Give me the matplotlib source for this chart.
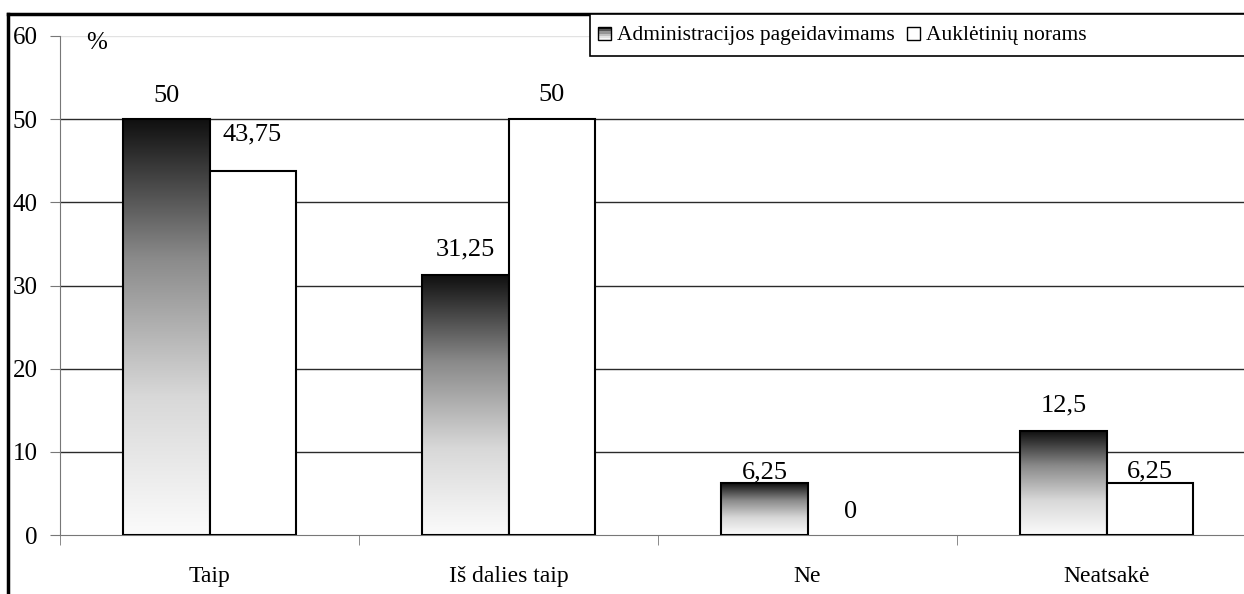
import numpy as np
import matplotlib.pyplot as plt
from matplotlib.patches import Rectangle
from matplotlib.colors import LinearSegmentedColormap
from matplotlib.legend_handler import HandlerBase

plt.rcParams['font.family'] = ['Liberation Serif', 'DejaVu Serif']

# data
categories = ['Taip', 'Iš dalies taip', 'Ne', 'Neatsakė']
admin = [50, 31.25, 6.25, 12.5]
aukl = [43.75, 50, 0, 6.25]
series_names = ['Administracijos pageidavimams', 'Auklėtinių norams']
yticks = [0, 10, 20, 30, 40, 50, 60]

# label nudges in points (layout only)
admin_off = [12, 14, 3, 14]
aukl_off = [22, 13, 12, 4]

W, H = 1244, 594
fig = plt.figure(figsize=(W / 100, H / 100), dpi=100)
ax = fig.add_axes([60 / W, (H - 535) / H, 1196 / W, 499 / H])

grad = LinearSegmentedColormap.from_list('g', ['#fbfbfb', '#d8d8d8', '#8a8a8a', '#101010'])
bw = 0.288
x = np.arange(len(categories))


def fmt(v):
    return ('%g' % v).replace('.', ',')


for i in range(len(categories)):
    x0 = x[i] - bw
    v = admin[i]
    if v > 0:
        img = np.linspace(0, 1, 256).reshape(-1, 1)
        ax.imshow(img, cmap=grad, aspect='auto', origin='lower',
                  extent=[x0, x0 + bw, 0, v], zorder=3, interpolation='bicubic')
        ax.add_patch(Rectangle((x0, 0), bw, v, facecolor='none',
                               edgecolor='black', lw=1.5, zorder=4))
    w = aukl[i]
    if w > 0:
        ax.add_patch(Rectangle((x[i], 0), bw, w, facecolor='white',
                               edgecolor='black', lw=1.5, zorder=4))
    ax.annotate(fmt(v), (x0 + bw / 2, v), xytext=(0, admin_off[i]),
                textcoords='offset points', ha='center', va='baseline',
                fontsize=19, zorder=5)
    ax.annotate(fmt(w), (x[i] + bw / 2, w), xytext=(0, aukl_off[i]),
                textcoords='offset points', ha='center', va='baseline',
                fontsize=19, zorder=5)

ax.set_xlim(-0.5, 3.5)
ax.set_ylim(0, 60)
ax.set_yticks(yticks)
ax.set_yticklabels([str(t) for t in yticks], fontsize=18)
for t in yticks[1:-1]:
    ax.axhline(t, color='#2a2a2a', lw=1, zorder=1)
ax.axhline(60, color='#e2e2e2', lw=1, zorder=1)

ax.set_xticks(x)
ax.set_xticklabels(categories, fontsize=17)
ax.set_xticks(np.arange(-0.5, 4.0, 1), minor=True)
ax.tick_params(axis='x', which='major', length=0, pad=22)
ax.tick_params(axis='x', which='minor', length=7, direction='out', color='#777')
ax.tick_params(axis='y', length=7, direction='out', color='#777', pad=9)
for s in ['top', 'right']:
    ax.spines[s].set_visible(False)
ax.spines['left'].set_color('#777')
ax.spines['bottom'].set_color('#777')
ax.patch.set_alpha(0)

ax.text(0.022, 0.985, '%', transform=ax.transAxes, fontsize=18,
        ha='left', va='center')

# outer frame
fig.add_artist(plt.Line2D([8 / W, 8 / W], [0, 1 - 14 / H], color='black',
                          lw=2.5, transform=fig.transFigure))
fig.add_artist(plt.Line2D([8 / W, 1], [1 - 14 / H, 1 - 14 / H], color='black',
                          lw=2.5, transform=fig.transFigure))

# legend box, running off the right edge like the source
fig.add_artist(Rectangle((590 / W, 1 - 56 / H), (W - 580) / W, 42 / H,
                         facecolor='white', edgecolor='black', lw=1.2,
                         transform=fig.transFigure, zorder=5))


class GradHandler(HandlerBase):
    def create_artists(self, legend, orig, xd, yd, width, height, fontsize, trans):
        s = height * 0.85
        arts = []
        first = orig.get_label() == series_names[0]
        if first:
            n = 6
            for k in range(n):
                c = grad(1 - k / (n - 1) * 0.95)
                arts.append(Rectangle((xd + width - s, yd + s * (n - 1 - k) / n), s, s / n,
                                      facecolor=c, edgecolor='none', transform=trans))
        arts.append(Rectangle((xd + width - s, yd), s, s,
                              facecolor='none' if first else 'white',
                              edgecolor='black', lw=1, transform=trans))
        return arts


h1 = Rectangle((0, 0), 1, 1, label=series_names[0])
h2 = Rectangle((0, 0), 1, 1, label=series_names[1])
leg = fig.legend(handles=[h1, h2], loc='center left',
                 bbox_to_anchor=(588 / W, 1 - 35 / H), ncol=2, fontsize=15.5,
                 handler_map={Rectangle: GradHandler()}, handlelength=0.75,
                 handletextpad=0.3, columnspacing=0.4, borderpad=0.3,
                 borderaxespad=0, frameon=False)
leg.set_zorder(6)

fig.savefig('out.png', dpi=100)
